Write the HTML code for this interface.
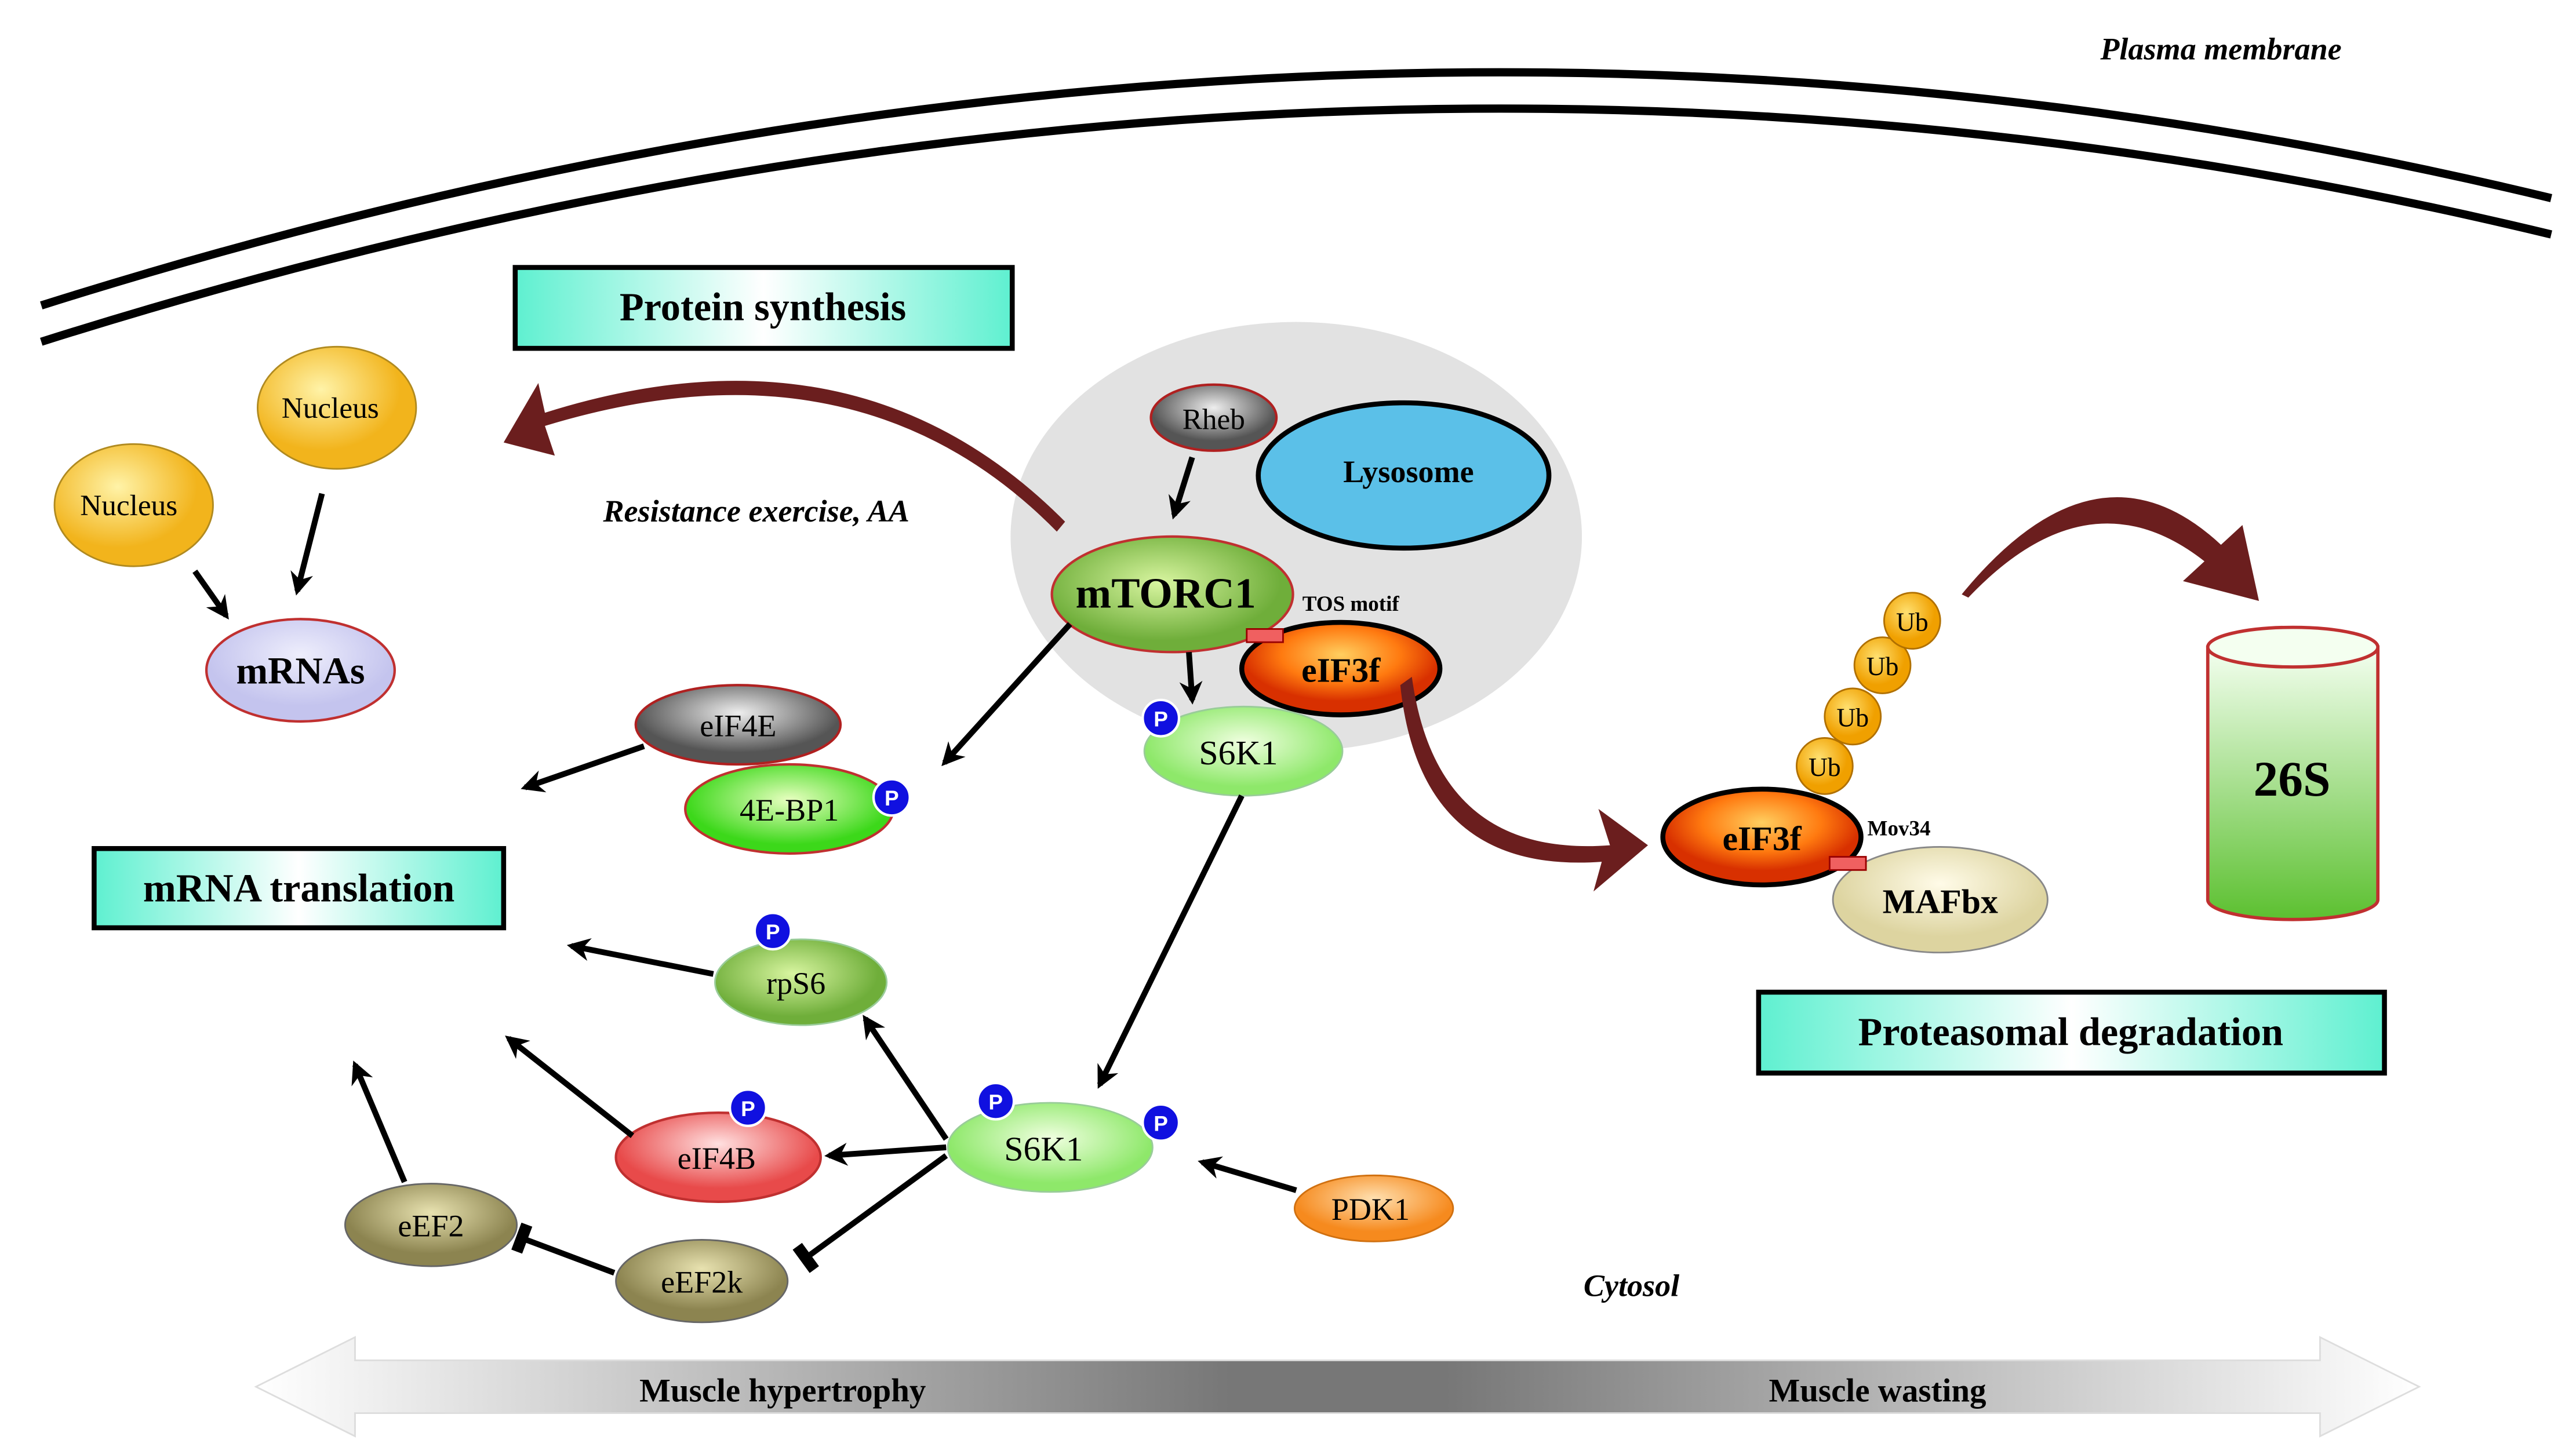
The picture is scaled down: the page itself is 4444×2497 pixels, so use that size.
<!DOCTYPE html>
<html><head><meta charset="utf-8"><style>html,body{margin:0;padding:0;background:#fff}svg{display:block}</style></head><body>
<svg width="4444" height="2497" viewBox="0 0 1560 876.5" xmlns="http://www.w3.org/2000/svg" font-family="'Liberation Serif',serif">
<defs>
<linearGradient id="box" x1="0" x2="1"><stop offset="0" stop-color="#5ef0d0"/><stop offset="0.5" stop-color="#ffffff"/><stop offset="1" stop-color="#5ef0d0"/></linearGradient>
<radialGradient id="yel" cx="0.4" cy="0.35"><stop offset="0" stop-color="#fff3a8"/><stop offset="1" stop-color="#f2b41c"/></radialGradient>
<radialGradient id="grn" cx="0.45" cy="0.4"><stop offset="0" stop-color="#d8f5a0"/><stop offset="1" stop-color="#6fae3a"/></radialGradient>
<radialGradient id="lgrn" cx="0.5" cy="0.4"><stop offset="0" stop-color="#f0ffe0"/><stop offset="1" stop-color="#8ee86a"/></radialGradient>
<radialGradient id="bgrn" cx="0.5" cy="0.4"><stop offset="0" stop-color="#e8ffc0"/><stop offset="1" stop-color="#3cd81a"/></radialGradient>
<radialGradient id="gry" cx="0.5" cy="0.35"><stop offset="0" stop-color="#eee"/><stop offset="1" stop-color="#555"/></radialGradient>
<radialGradient id="org" cx="0.5" cy="0.35"><stop offset="0" stop-color="#ffcf60"/><stop offset="0.6" stop-color="#ff7a10"/><stop offset="1" stop-color="#d83000"/></radialGradient>
<radialGradient id="pdk" cx="0.5" cy="0.35"><stop offset="0" stop-color="#ffe0b0"/><stop offset="1" stop-color="#f68a1e"/></radialGradient>
<radialGradient id="pink" cx="0.5" cy="0.35"><stop offset="0" stop-color="#ffe0e0"/><stop offset="1" stop-color="#e84a4a"/></radialGradient>
<radialGradient id="olv" cx="0.5" cy="0.35"><stop offset="0" stop-color="#e8e2b0"/><stop offset="1" stop-color="#8c8450"/></radialGradient>
<radialGradient id="beige" cx="0.5" cy="0.35"><stop offset="0" stop-color="#fffbe8"/><stop offset="1" stop-color="#ddd4a0"/></radialGradient>
<radialGradient id="lav" cx="0.5" cy="0.35"><stop offset="0" stop-color="#eeeefc"/><stop offset="1" stop-color="#c4c4ee"/></radialGradient>
<radialGradient id="ub" cx="0.4" cy="0.35"><stop offset="0" stop-color="#ffe070"/><stop offset="1" stop-color="#f0a000"/></radialGradient>
<linearGradient id="cyl" x1="0" x2="0" y1="0" y2="1"><stop offset="0" stop-color="#f4fff0"/><stop offset="1" stop-color="#5cc030"/></linearGradient>
<linearGradient id="bar" x1="0" x2="1"><stop offset="0" stop-color="#fff"/><stop offset="0.45" stop-color="#777"/><stop offset="0.55" stop-color="#777"/><stop offset="1" stop-color="#fff"/></linearGradient>
<marker id="ah" viewBox="0 0 10 10" refX="8" refY="5" markerWidth="4" markerHeight="4" orient="auto"><path d="M0,0 L10,5 L0,10 L3,5z" fill="#000"/></marker>
<marker id="tb" viewBox="0 0 4 10" refX="2" refY="5" markerWidth="3" markerHeight="5" orient="auto"><rect x="0" y="0" width="4" height="10" fill="#000"/></marker>
</defs>
<path d="M25,185 Q800,-60 1545,120" fill="none" stroke="#000" stroke-width="5"/>
<path d="M25,207 Q800,-38 1545,142" fill="none" stroke="#000" stroke-width="5"/>
<text x="1345" y="36" font-size="19" font-style="italic" font-weight="bold" text-anchor="middle">Plasma membrane</text>
<path d="M155,840 L215,810 L215,824 L1405,824 L1405,810 L1465,840 L1405,870 L1405,856 L215,856 L215,870z" fill="url(#bar)" stroke="#ddd"/>
<text x="474" y="849" font-size="20" font-weight="bold" text-anchor="middle">Muscle hypertrophy</text>
<text x="1137" y="849" font-size="20" font-weight="bold" text-anchor="middle">Muscle wasting</text>
<text x="988" y="785" font-size="19" font-style="italic" font-weight="bold" text-anchor="middle">Cytosol</text>
<rect x="312" y="162" width="301" height="49" fill="url(#box)" stroke="#000" stroke-width="3"/>
<text x="462" y="194" font-size="24" font-weight="bold" text-anchor="middle">Protein synthesis</text>
<rect x="57" y="514" width="248" height="48" fill="url(#box)" stroke="#000" stroke-width="3"/>
<text x="181" y="546" font-size="24" font-weight="bold" text-anchor="middle">mRNA translation</text>
<rect x="1065" y="601" width="379" height="49" fill="url(#box)" stroke="#000" stroke-width="3"/>
<text x="1254" y="633" font-size="24" font-weight="bold" text-anchor="middle">Proteasomal degradation</text>
<ellipse cx="785" cy="325" rx="173" ry="130" fill="#e2e2e2"/>
<path d="M640,322 Q520,200 330,258 L336,276 L305,268 L326,232 L330,250 Q520,190 645,316z" fill="#6b1e1e"/>
<text x="458" y="316" font-size="19" font-style="italic" font-weight="bold" text-anchor="middle">Resistance exercise, AA</text>
<ellipse cx="735" cy="253" rx="38" ry="20" fill="url(#gry)" stroke="#b02020" stroke-width="1.5"/>
<text x="735" y="260" font-size="18" text-anchor="middle">Rheb</text>
<ellipse cx="850" cy="288" rx="88" ry="44" fill="#5bc0e8" stroke="#000" stroke-width="3"/>
<text x="853" y="292" font-size="19" font-weight="bold" text-anchor="middle">Lysosome</text>
<line x1="722" y1="277" x2="711" y2="312" stroke="#000" stroke-width="3.5" marker-end="url(#ah)"/>
<ellipse cx="710" cy="360" rx="73" ry="35" fill="url(#grn)" stroke="#c03030" stroke-width="1.5"/>
<text x="706" y="368" font-size="26" font-weight="bold" text-anchor="middle">mTORC1</text>
<line x1="720" y1="395" x2="722" y2="424" stroke="#000" stroke-width="3.5" marker-end="url(#ah)"/>
<ellipse cx="812" cy="405" rx="60" ry="28" fill="url(#org)" stroke="#000" stroke-width="3"/>
<text x="812" y="413" font-size="21" font-weight="bold" text-anchor="middle">eIF3f</text>
<rect x="755" y="381" width="22" height="8" fill="#f06060" stroke="#900" stroke-width="1"/>
<text x="818" y="370" font-size="13" font-weight="bold" text-anchor="middle">TOS motif</text>
<ellipse cx="753" cy="455" rx="60" ry="27" fill="url(#lgrn)" stroke="#9c9" stroke-width="1"/>
<text x="750" y="463" font-size="21" text-anchor="middle">S6K1</text>
<path d="M855,410 Q870,520 975,512 L968,490 L998,512 L965,540 L970,522 Q860,530 848,415z" fill="#6b1e1e"/>
<ellipse cx="204" cy="247" rx="48" ry="37" fill="url(#yel)" stroke="#b08a20" stroke-width="1"/>
<text x="200" y="253" font-size="18" text-anchor="middle">Nucleus</text>
<ellipse cx="81" cy="306" rx="48" ry="37" fill="url(#yel)" stroke="#b08a20" stroke-width="1"/>
<text x="78" y="312" font-size="18" text-anchor="middle">Nucleus</text>
<line x1="195" y1="299" x2="180" y2="358" stroke="#000" stroke-width="3.5" marker-end="url(#ah)"/>
<line x1="118" y1="346" x2="137" y2="373" stroke="#000" stroke-width="3.5" marker-end="url(#ah)"/>
<ellipse cx="182" cy="406" rx="57" ry="31" fill="url(#lav)" stroke="#c03030" stroke-width="1.5"/>
<text x="182" y="414" font-size="23" font-weight="bold" text-anchor="middle">mRNAs</text>
<ellipse cx="447" cy="439" rx="62" ry="24" fill="url(#gry)" stroke="#b02020" stroke-width="1.5"/>
<text x="447" y="446" font-size="19" text-anchor="middle">eIF4E</text>
<ellipse cx="478" cy="490" rx="63" ry="27" fill="url(#bgrn)" stroke="#c03030" stroke-width="1.5"/>
<text x="478" y="497" font-size="19" text-anchor="middle">4E-BP1</text>
<line x1="390" y1="452" x2="318" y2="477" stroke="#000" stroke-width="3.5" marker-end="url(#ah)"/>
<line x1="648" y1="378" x2="572" y2="462" stroke="#000" stroke-width="3.5" marker-end="url(#ah)"/>
<ellipse cx="485" cy="595" rx="52" ry="26" fill="url(#grn)" stroke="#9c9"/>
<text x="482" y="602" font-size="19" text-anchor="middle">rpS6</text>
<line x1="432" y1="590" x2="346" y2="573" stroke="#000" stroke-width="3.5" marker-end="url(#ah)"/>
<ellipse cx="435" cy="701" rx="62" ry="27" fill="url(#pink)" stroke="#c03030" stroke-width="1.5"/>
<text x="434" y="708" font-size="19" text-anchor="middle">eIF4B</text>
<line x1="383" y1="688" x2="308" y2="629" stroke="#000" stroke-width="3.5" marker-end="url(#ah)"/>
<ellipse cx="261" cy="742" rx="52" ry="25" fill="url(#olv)" stroke="#666"/>
<text x="261" y="749" font-size="19" text-anchor="middle">eEF2</text>
<line x1="245" y1="716" x2="215" y2="645" stroke="#000" stroke-width="3.5" marker-end="url(#ah)"/>
<ellipse cx="425" cy="776" rx="52" ry="25" fill="url(#olv)" stroke="#666"/>
<text x="425" y="783" font-size="19" text-anchor="middle">eEF2k</text>
<line x1="372" y1="771" x2="316" y2="750" stroke="#000" stroke-width="3.5" marker-end="url(#tb)"/>
<line x1="752" y1="482" x2="666" y2="657" stroke="#000" stroke-width="3.5" marker-end="url(#ah)"/>
<ellipse cx="636" cy="695" rx="62" ry="27" fill="url(#lgrn)" stroke="#9c9"/>
<text x="632" y="703" font-size="21" text-anchor="middle">S6K1</text>
<line x1="573" y1="690" x2="524" y2="617" stroke="#000" stroke-width="3.5" marker-end="url(#ah)"/>
<line x1="573" y1="695" x2="502" y2="700" stroke="#000" stroke-width="3.5" marker-end="url(#ah)"/>
<line x1="573" y1="700" x2="488" y2="762" stroke="#000" stroke-width="3.5" marker-end="url(#tb)"/>
<ellipse cx="832" cy="732" rx="48" ry="20" fill="url(#pdk)" stroke="#d07010"/>
<text x="830" y="739" font-size="19" text-anchor="middle">PDK1</text>
<line x1="785" y1="721" x2="728" y2="704" stroke="#000" stroke-width="3.5" marker-end="url(#ah)"/>
<g fill="#1010e0" stroke="#fff" stroke-width="1.5">
<circle cx="703" cy="435" r="11"/><circle cx="540" cy="483" r="11"/><circle cx="468" cy="564" r="11"/><circle cx="453" cy="671" r="11"/><circle cx="603" cy="667" r="11"/><circle cx="703" cy="680" r="11"/></g>
<g fill="#fff" font-family="'Liberation Sans',sans-serif" font-size="13" font-weight="bold" text-anchor="middle">
<text x="703" y="440">P</text><text x="540" y="488">P</text><text x="468" y="569">P</text><text x="453" y="676">P</text><text x="603" y="672">P</text><text x="703" y="685">P</text></g>
<ellipse cx="1175" cy="545" rx="65" ry="32" fill="url(#beige)" stroke="#888"/>
<text x="1175" y="553" font-size="21" font-weight="bold" text-anchor="middle">MAFbx</text>
<ellipse cx="1067" cy="507" rx="60" ry="29" fill="url(#org)" stroke="#000" stroke-width="3"/>
<text x="1067" y="515" font-size="21" font-weight="bold" text-anchor="middle">eIF3f</text>
<rect x="1108" y="519" width="22" height="8" fill="#f06060" stroke="#900"/>
<text x="1150" y="506" font-size="13" font-weight="bold" text-anchor="middle">Mov34</text>
<g fill="url(#ub)" stroke="#b07000"><circle cx="1105" cy="464" r="17"/><circle cx="1122" cy="434" r="17"/><circle cx="1140" cy="403" r="17"/><circle cx="1158" cy="376" r="17"/></g>
<g font-size="16" text-anchor="middle"><text x="1105" y="470">Ub</text><text x="1122" y="440">Ub</text><text x="1140" y="409">Ub</text><text x="1158" y="382">Ub</text></g>
<path d="M1188,360 Q1270,260 1345,330 L1358,318 L1368,364 L1322,352 L1335,340 Q1265,285 1192,362z" fill="#6b1e1e"/>
<path d="M1337,392 L1337,545 A51.5,12 0 0 0 1440,545 L1440,392z" fill="url(#cyl)" stroke="#c03030" stroke-width="2"/>
<ellipse cx="1388.5" cy="392" rx="51.5" ry="12" fill="#f4fff0" stroke="#c03030" stroke-width="2"/>
<text x="1388" y="482" font-size="30" font-weight="bold" text-anchor="middle">26S</text>
</svg>
</body></html>
